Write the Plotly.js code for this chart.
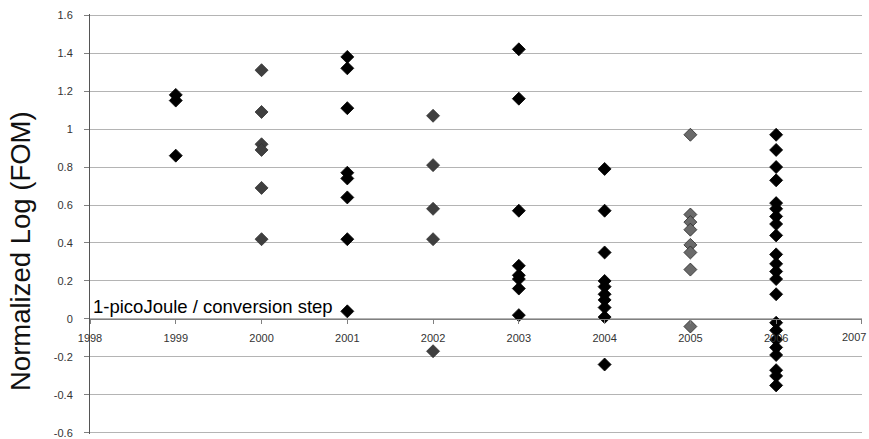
<!DOCTYPE html>
<html>
<head>
<meta charset="utf-8">
<script src="https://cdn.plot.ly/plotly-3.0.1.min.js"></script>
<style>
  html, body { margin: 0; padding: 0; background: #ffffff; }
  #chart { width: 869px; height: 439px; }
</style>
</head>
<body>
<div id="chart"></div>
<script>
// ---- Data ----
const years = [1999, 2000, 2001, 2002, 2003, 2004, 2005, 2006];
const fom1999 = [1.18, 1.15, 0.86];
const fom2000 = [1.31, 1.09, 0.92, 0.89, 0.69, 0.42];
const fom2001 = [1.38, 1.32, 1.11, 0.77, 0.74, 0.64, 0.42, 0.04];
const fom2002 = [1.07, 0.81, 0.58, 0.42, -0.17];
const fom2003 = [1.42, 1.16, 0.57, 0.28, 0.23, 0.21, 0.16, 0.02];
const fom2004 = [0.79, 0.57, 0.35, 0.20, 0.17, 0.13, 0.10, 0.06, 0.01, -0.24];
const fom2005 = [0.97, 0.55, 0.51, 0.47, 0.39, 0.35, 0.26, -0.04];
const fom2006 = [0.97, 0.89, 0.80, 0.73, 0.61, 0.58, 0.54, 0.50, 0.44, 0.34, 0.29, 0.25, 0.21, 0.13,
                 -0.02, -0.06, -0.11, -0.15, -0.19, -0.27, -0.30, -0.35];
const seriesByYear = [fom1999, fom2000, fom2001, fom2002, fom2003, fom2004, fom2005, fom2006];

const xTickVals = [1998, 1999, 2000, 2001, 2002, 2003, 2004, 2005, 2006, 2007];
const xTickText = ["1998", "1999", "2000", "2001", "2002", "2003", "2004", "2005", "2006", "2007"];
const yTickVals = [-0.6, -0.4, -0.2, 0, 0.2, 0.4, 0.6, 0.8, 1, 1.2, 1.4, 1.6];
const yTickText = ["-0.6", "-0.4", "-0.2", "0", "0.2", "0.4", "0.6", "0.8", "1", "1.2", "1.4", "1.6"];

const yTitle = "Normalized Log (FOM)";
const noteText = "1-picoJoule / conversion step";

// ---- Styles ----
const fillByYear = {1999: "#000000", 2000: "#3f3f3f", 2001: "#000000", 2002: "#3f3f3f",
                    2003: "#000000", 2004: "#000000", 2005: "#6a6a6a", 2006: "#000000"};
const lineByYear = {1999: "#000000", 2000: "#333333", 2001: "#000000", 2002: "#333333",
                    2003: "#000000", 2004: "#000000", 2005: "#2a2a2a", 2006: "#000000"};

const traces = years.map((yr, i) => ({
  type: "scatter",
  mode: "markers",
  x: seriesByYear[i].map(() => yr),
  y: seriesByYear[i],
  marker: {
    symbol: "diamond",
    size: 10,
    color: fillByYear[yr],
    line: {color: lineByYear[yr], width: 0.8}
  },
  hoverinfo: "x+y",
  showlegend: false
}));

// y range padded a hair so the -0.6 and 1.6 grid lines are drawn
const yLo = -0.606, yHi = 1.606;
const plotTop = 14, plotBottom = 434, H = 439;
const xZeroPos = (0 - yLo) / (yHi - yLo);

// the last tick label sits at the window edge: draw it right-aligned so it stays whole
const lastIdx = xTickText.length - 1;
const axisTickText = xTickText.map((t, i) => (i === lastIdx ? "" : t));

const layout = {
  width: 869,
  height: H,
  margin: {l: 90, r: 7, t: plotTop, b: H - plotBottom, pad: 0},
  paper_bgcolor: "#ffffff",
  plot_bgcolor: "#ffffff",
  font: {family: "Liberation Sans, Arial, sans-serif", color: "#333333", size: 11},
  showlegend: false,
  xaxis: {
    range: [1998, 2007.001],
    tickvals: xTickVals,
    ticktext: axisTickText,
    anchor: "free",
    position: xZeroPos,
    showgrid: false,
    zeroline: false,
    showline: true,
    linecolor: "#808080",
    linewidth: 1,
    ticks: "outside",
    ticklen: 4,
    tickcolor: "#808080",
    ticklabelstandoff: 5,
    tickfont: {size: 11, color: "#333333"}
  },
  yaxis: {
    range: [yLo, yHi],
    tickvals: yTickVals,
    ticktext: yTickText,
    showgrid: true,
    gridcolor: "#b4b4b4",
    gridwidth: 1,
    zeroline: false,
    showline: true,
    linecolor: "#555555",
    linewidth: 1,
    ticks: "outside",
    ticklen: 5,
    tickcolor: "#808080",
    ticklabelstandoff: 9,
    tickfont: {size: 11, color: "#333333"}
  },
  annotations: [
    {
      text: yTitle,
      xref: "paper", yref: "paper",
      x: 0, y: (plotBottom - 251) / (plotBottom - plotTop),
      xshift: -70,
      xanchor: "center", yanchor: "middle",
      textangle: -90,
      showarrow: false,
      font: {family: "Liberation Sans, Arial, sans-serif", size: 27.5, color: "#111111"}
    },
    {
      text: noteText,
      xref: "x", yref: "y",
      x: 1998, y: 0.065,
      xshift: 1,
      xanchor: "left", yanchor: "middle",
      showarrow: false,
      font: {family: "Liberation Sans, Arial, sans-serif", size: 18.5, color: "#000000"}
    },
    {
      text: xTickText[lastIdx],
      xref: "x", yref: "paper",
      x: xTickVals[lastIdx], y: xZeroPos,
      xshift: 6, yshift: -10,
      xanchor: "right", yanchor: "top",
      showarrow: false,
      font: {family: "Liberation Sans, Arial, sans-serif", size: 11, color: "#333333"}
    }
  ]
};

Plotly.newPlot("chart", traces, layout, {displayModeBar: false, staticPlot: true});
</script>
</body>
</html>
